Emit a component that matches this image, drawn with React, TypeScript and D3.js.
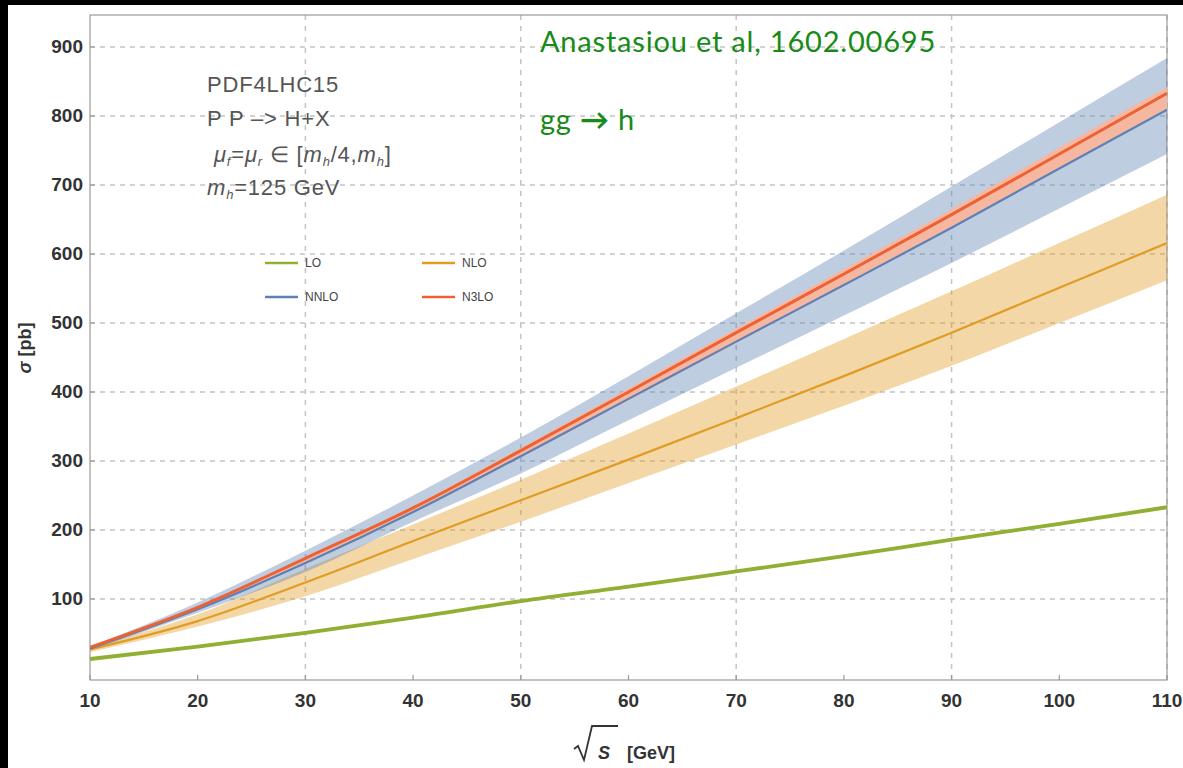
import React from "react";
import * as d3 from "d3";

const sqrtS = [10, 20, 30, 40, 50, 60, 70, 80, 90, 100, 110];
const loCentral = [13, 31, 51, 73, 97, 118, 140, 162, 186, 209, 233];
const nloCentral = [27, 68, 124, 184, 243, 302, 362, 423, 486, 551, 616];
const nloUpper = [30, 78, 144, 208, 273, 340, 408, 477, 546, 616, 686];
const nloLower = [23, 60, 104, 158, 212, 268, 324, 380, 438, 500, 562];
const nnloCentral = [28, 85, 152, 226, 307, 390, 473, 555, 638, 724, 809];
const nnloUpper = [31, 95, 170, 250, 334, 423, 514, 605, 698, 791, 884];
const nnloLower = [26, 80, 139, 212, 282, 359, 435, 511, 587, 666, 745];
const n3loCentral = [30, 88, 159, 232, 315, 400, 486, 571, 657, 745, 833];
const n3loUpper = [31, 89, 161, 235, 319, 405, 492, 578, 665, 754, 842];
const n3loLower = [29, 85, 154, 225, 305, 388, 471, 554, 637, 723, 810];

const xTicks = [10, 20, 30, 40, 50, 60, 70, 80, 90, 100, 110];
const xGrid = [30, 50, 70, 90, 110];
const yTicks = [100, 200, 300, 400, 500, 600, 700, 800, 900];

const legendItems = [
  { label: "LO", color: "#8FB032", col: 0, row: 0 },
  { label: "NLO", color: "#E19C24", col: 1, row: 0 },
  { label: "NNLO", color: "#5E81B5", col: 0, row: 1 },
  { label: "N3LO", color: "#EB6235", col: 1, row: 1 },
];

const W = 1183;
const H = 768;
const L = 90, R = 1167, T = 15, B = 680;

export default function App() {
  const x = d3.scaleLinear().domain([10, 110]).range([L, R]);
  const y = d3.scaleLinear().domain([-17.4, 946.4]).range([B, T]);

  const line = (vals: number[]) =>
    d3.line<number>().x((_, i) => x(sqrtS[i])).y((v) => y(v)).curve(d3.curveMonotoneX)(vals) || "";
  const area = (lo: number[], hi: number[]) =>
    d3
      .area<number>()
      .x((_, i) => x(sqrtS[i]))
      .y0((_, i) => y(lo[i]))
      .y1((_, i) => y(hi[i]))
      .curve(d3.curveMonotoneX)(sqrtS) || "";

  const tickFont = "'Liberation Sans', Arial, sans-serif";
  const gridColor = "#c4c4c4";
  const axisColor = "#9a9a9a";

  return (
    <div style={{ position: "fixed", left: 0, top: 0 }}>
      <svg width={W} height={H} style={{ display: "block" }}>
        <rect x={0} y={0} width={W} height={H} fill="#000" />
        <rect x={8} y={5} width={W - 8} height={H - 5} fill="#fff" />
        <defs>
          <clipPath id="plotclip">
            <rect x={L} y={T} width={R - L} height={B - T} />
          </clipPath>
        </defs>
        {/* grid */}
        {yTicks.map((t) => (
          <line key={"gy" + t} x1={L} x2={R} y1={y(t)} y2={y(t)} stroke={gridColor} strokeWidth={1.5} strokeDasharray="5,5" />
        ))}
        {xGrid.map((t) => (
          <line key={"gx" + t} x1={x(t)} x2={x(t)} y1={T} y2={B} stroke={gridColor} strokeWidth={1.5} strokeDasharray="5,6" />
        ))}
        {/* frame */}
        <rect x={L} y={T} width={R - L} height={B - T} fill="none" stroke={axisColor} strokeWidth={1.2} />
        {xTicks.map((t) => (
          <line key={"tx" + t} x1={x(t)} x2={x(t)} y1={B} y2={B - 5} stroke={axisColor} strokeWidth={1.2} />
        ))}
        {yTicks.map((t) => (
          <line key={"ty" + t} x1={L} x2={L + 5} y1={y(t)} y2={y(t)} stroke={axisColor} strokeWidth={1.2} />
        ))}
        <g clipPath="url(#plotclip)">
          <path d={area(nloLower, nloUpper)} fill="#E19C24" fillOpacity={0.4} />
          <path d={area(nnloLower, nnloUpper)} fill="#5E81B5" fillOpacity={0.4} />
          <path d={area(n3loLower, n3loUpper)} fill="#f6b7a1" />
          <path d={line(loCentral)} fill="none" stroke="#8FB032" strokeWidth={3.8} />
          <path d={line(nloCentral)} fill="none" stroke="#E19C24" strokeWidth={2.2} />
          <path d={line(nnloCentral)} fill="none" stroke="#5E81B5" strokeWidth={2.2} />
          <path d={line(n3loCentral)} fill="none" stroke="#EB6235" strokeWidth={3} />
        </g>
        {/* tick labels */}
        {xTicks.map((t) => (
          <text key={"lx" + t} x={x(t)} y={707} textAnchor="middle" fontFamily={tickFont} fontWeight="bold" fontSize={19} fill="#333">
            {t}
          </text>
        ))}
        {yTicks.map((t) => (
          <text key={"ly" + t} x={83} y={y(t) + 6} textAnchor="end" fontFamily={tickFont} fontWeight="bold" fontSize={19} fill="#333">
            {t}
          </text>
        ))}
        {/* axis titles */}
        <g fontFamily={tickFont} fontWeight="bold" fill="#333">
          <path d="M574,749 L578,746 L584,760 L592,726 L618,726" fill="none" stroke="#333" strokeWidth={1.8} />
          <text x={598} y={759} fontSize={18} fontStyle="italic">S</text>
          <text x={627} y={759} fontSize={18}>[GeV]</text>
        </g>
        <text transform="translate(31,348) rotate(-90)" textAnchor="middle" fontFamily={tickFont} fontWeight="bold" fontSize={18} fill="#333">
          <tspan fontStyle="italic">σ</tspan> [pb]
        </text>
        {/* annotation */}
        <g fontFamily={tickFont} fontSize={22} fill="#555" letterSpacing={0.8}>
          <text x={207} y={92}>PDF4LHC15</text>
          <text x={207} y={126}>P P –&gt; H+X</text>
          <text x={214} y={162}>
            <tspan fontStyle="italic">μ</tspan>
            <tspan fontSize={13} dy={4} fontStyle="italic">f</tspan>
            <tspan dy={-4}>=</tspan>
            <tspan fontStyle="italic">μ</tspan>
            <tspan fontSize={13} dy={4} fontStyle="italic">r</tspan>
            <tspan dy={-4}> ∈ [</tspan>
            <tspan fontStyle="italic">m</tspan>
            <tspan fontSize={13} dy={4} fontStyle="italic">h</tspan>
            <tspan dy={-4}>/4,</tspan>
            <tspan fontStyle="italic">m</tspan>
            <tspan fontSize={13} dy={4} fontStyle="italic">h</tspan>
            <tspan dy={-4}>]</tspan>
          </text>
          <text x={207} y={195}>
            <tspan fontStyle="italic">m</tspan>
            <tspan fontSize={13} dy={4} fontStyle="italic">h</tspan>
            <tspan dy={-4}>=125 GeV</tspan>
          </text>
        </g>
        {/* legend */}
        {legendItems.map((it) => {
          const lx = 265 + it.col * 157;
          const ly = 263 + it.row * 34;
          return (
            <g key={it.label}>
              <line x1={lx} x2={lx + 33} y1={ly} y2={ly} stroke={it.color} strokeWidth={2.5} />
              <text x={lx + 40} y={ly + 4} fontFamily={tickFont} fontSize={12} fill="#444">
                {it.label}
              </text>
            </g>
          );
        })}
        {/* green citation text */}
        <g fontFamily="Lato, 'Open Sans', sans-serif" fontSize={29} fill="#178a17" letterSpacing={0.8}>
          <text x={540} y={52}>Anastasiou et al, 1602.00695</text>
          <text x={540} y={130}>gg <tspan fontWeight="bold">→</tspan> h</text>
        </g>
      </svg>
    </div>
  );
}
